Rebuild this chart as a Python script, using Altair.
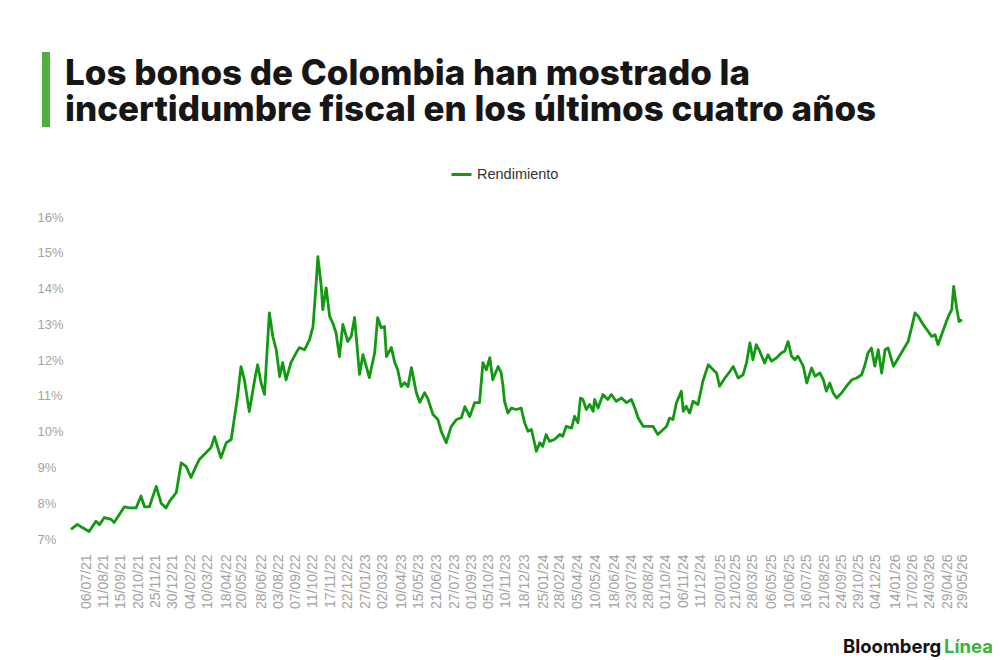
import altair as alt
import pandas as pd

# ---- data (yield, %) ----
dates_2021 = ["2021-06-05","2021-06-18","2021-06-28","2021-07-12","2021-07-26","2021-08-02","2021-08-12",
              "2021-08-26","2021-09-01","2021-09-22","2021-10-02","2021-10-16","2021-10-26","2021-11-02",
              "2021-11-12","2021-11-26","2021-12-06","2021-12-16","2021-12-23"]
values_2021 = [7.27,7.41,7.32,7.21,7.50,7.40,7.60,7.55,7.46,7.90,7.87,7.87,8.20,7.90,7.90,8.47,8.00,7.87,8.05]

dates_2022 = ["2022-01-06","2022-01-16","2022-01-26","2022-02-05","2022-02-15","2022-02-22","2022-03-08",
              "2022-03-18","2022-03-25","2022-04-07","2022-04-18","2022-04-28","2022-05-05","2022-05-11",
              "2022-05-18","2022-05-25","2022-06-04","2022-06-15","2022-06-21","2022-06-28","2022-07-05",
              "2022-07-15","2022-07-22","2022-07-29","2022-08-05","2022-08-11","2022-08-18","2022-08-28",
              "2022-09-08","2022-09-14","2022-09-25","2022-10-05","2022-10-12","2022-10-18","2022-10-22",
              "2022-10-29","2022-11-01","2022-11-08","2022-11-15","2022-11-21","2022-11-28","2022-12-05",
              "2022-12-12","2022-12-22","2022-12-29"]
values_2022 = [8.30,9.13,9.03,8.72,9.03,9.22,9.42,9.56,9.86,9.27,9.69,9.78,10.42,10.98,11.82,11.45,10.56,
               11.45,11.87,11.37,11.04,13.32,12.66,12.29,11.54,11.93,11.45,11.93,12.21,12.35,12.29,12.57,
               12.93,14.05,14.89,14.05,13.41,14.02,13.22,13.05,12.77,12.10,13.00,12.52,12.66]

dates_2023 = ["2023-01-05","2023-01-15","2023-01-22","2023-01-29","2023-02-04","2023-02-15","2023-02-21",
              "2023-02-28","2023-03-07","2023-03-11","2023-03-21","2023-03-28","2023-04-03","2023-04-10",
              "2023-04-17","2023-04-24","2023-05-01","2023-05-11","2023-05-18","2023-05-28","2023-06-04",
              "2023-06-14","2023-06-24","2023-07-01","2023-07-11","2023-07-21","2023-08-01","2023-08-11",
              "2023-08-18","2023-08-28","2023-09-07","2023-09-17","2023-09-24","2023-10-01","2023-10-08",
              "2023-10-14","2023-10-25","2023-10-31","2023-11-04","2023-11-07","2023-11-14","2023-11-21",
              "2023-12-01","2023-12-11","2023-12-18","2023-12-25"]
values_2023 = [13.19,11.60,12.15,11.82,11.51,12.21,13.19,12.91,12.94,12.10,12.35,11.93,11.73,11.26,11.37,
               11.26,11.79,11.09,10.82,11.09,10.90,10.48,10.34,10.00,9.69,10.14,10.34,10.39,10.70,10.42,
               10.81,10.81,11.93,11.73,12.07,11.45,11.82,11.66,11.27,10.85,10.52,10.66,10.62,10.66,10.25,
               10.01]

dates_2024 = ["2024-01-01","2024-01-08","2024-01-11","2024-01-18","2024-01-24","2024-01-31","2024-02-07",
              "2024-02-17","2024-02-28","2024-03-05","2024-03-12","2024-03-23","2024-03-29","2024-04-05",
              "2024-04-10","2024-04-15","2024-04-22","2024-04-29","2024-05-06","2024-05-09","2024-05-16",
              "2024-05-26","2024-06-05","2024-06-12","2024-06-22","2024-07-03","2024-07-13","2024-07-23",
              "2024-07-30","2024-08-06","2024-08-16","2024-08-26","2024-09-05","2024-09-15","2024-09-26",
              "2024-10-03","2024-10-09","2024-10-16","2024-10-23","2024-11-02","2024-11-06","2024-11-12",
              "2024-11-19","2024-11-26","2024-12-06","2024-12-16","2024-12-27"]
values_2024 = [10.06,9.64,9.45,9.69,9.59,9.92,9.73,9.78,9.92,9.87,10.15,10.10,10.43,10.25,10.94,10.90,
               10.62,10.76,10.57,10.90,10.66,11.04,10.90,11.04,10.85,10.94,10.81,10.90,10.66,10.38,10.15,
               10.15,10.15,9.92,10.06,10.15,10.38,10.34,10.81,11.13,10.57,10.71,10.52,10.85,10.76,11.41,
               11.87]

dates_2025 = ["2025-01-06","2025-01-13","2025-01-19","2025-01-30","2025-02-09","2025-02-16","2025-02-26",
              "2025-03-08","2025-03-15","2025-03-22","2025-03-28","2025-04-04","2025-04-11","2025-04-21",
              "2025-04-28","2025-05-05","2025-05-15","2025-05-25","2025-06-01","2025-06-08","2025-06-15",
              "2025-06-22","2025-06-28","2025-07-09","2025-07-16","2025-07-26","2025-08-02","2025-08-12",
              "2025-08-19","2025-08-25","2025-09-01","2025-09-08","2025-09-15","2025-09-25","2025-10-05",
              "2025-10-16","2025-10-26","2025-11-05","2025-11-12","2025-11-18","2025-11-25","2025-12-02",
              "2025-12-09","2025-12-16","2025-12-23","2025-12-29"]
values_2025 = [11.73,11.64,11.27,11.50,11.68,11.82,11.50,11.59,11.92,12.48,12.01,12.43,12.25,11.92,12.15,
               11.97,12.06,12.20,12.25,12.52,12.11,12.01,12.11,11.83,11.36,11.78,11.55,11.64,11.45,11.13,
               11.36,11.08,10.94,11.08,11.27,11.45,11.50,11.59,11.87,12.20,12.34,11.83,12.29,11.64,12.29,
               12.34]

dates_2026 = ["2026-01-09","2026-01-19","2026-01-29","2026-02-08","2026-02-15","2026-02-22","2026-03-01",
              "2026-03-11","2026-03-21","2026-03-28","2026-04-04","2026-04-10","2026-04-21","2026-05-01",
              "2026-05-08","2026-05-12","2026-05-18","2026-05-23","2026-05-29"]
values_2026 = [11.83,12.06,12.29,12.52,12.90,13.32,13.22,12.99,12.80,12.66,12.71,12.43,12.85,13.22,13.41,
               14.06,13.46,13.08,13.13]

x_tick_labels = ["06/07/21","11/08/21","15/09/21","20/10/21","25/11/21","30/12/21","04/02/22","10/03/22",
                 "18/04/22","20/05/22","28/06/22","03/08/22","07/09/22","11/10/22","17/11/22","22/12/22",
                 "27/01/23","02/03/23","10/04/23","15/05/23","21/06/23","27/07/23","01/09/23","05/10/23",
                 "10/11/23","18/12/23","25/01/24","28/02/24","05/04/24","10/05/24","18/06/24","23/07/24",
                 "28/08/24","01/10/24","06/11/24","11/12/24","20/01/25","21/02/25","28/03/25","06/05/25",
                 "10/06/25","16/07/25","21/08/25","24/09/25","29/10/25","04/12/25","14/01/26","17/02/26",
                 "24/03/26","29/04/26","29/05/26"]
y_ticks = [7, 8, 9, 10, 11, 12, 13, 14, 15, 16]

series_name = "Rendimiento"
title_lines = ["Los bonos de Colombia han mostrado la",
               "incertidumbre fiscal en los últimos cuatro años"]

# ---- build ----
dates = dates_2021 + dates_2022 + dates_2023 + dates_2024 + dates_2025 + dates_2026
values = values_2021 + values_2022 + values_2023 + values_2024 + values_2025 + values_2026
df = pd.DataFrame({"fecha": dates, "rendimiento": values, "serie": series_name})


def to_ms(ts):
    return int(pd.Timestamp(ts).value // 10**6)


tick_ms = [to_ms(pd.to_datetime(s, format="%d/%m/%y")) for s in x_tick_labels]
x_domain = [to_ms(dates[0]), to_ms(dates[-1])]

LINE_GREEN = "#119a11"
BAR_GREEN = "#4cb140"
LOGO_GREEN = "#38b43c"
W, H = 891, 322

line = alt.Chart(df).mark_line(strokeWidth=2.8, strokeJoin="round").encode(
    x=alt.X("fecha:T",
            scale=alt.Scale(type="utc", domain=x_domain, nice=False),
            axis=alt.Axis(values=tick_ms, labelExpr="utcFormat(datum.value, '%d/%m/%y')",
                          labelAngle=-90, labelAlign="right", labelBaseline="middle",
                          labelPadding=15, ticks=False, tickSize=0, domain=False, grid=False,
                          labelOverlap=False, labelBound=False, labelFlush=False,
                          labelFontSize=14, labelColor="#a3a3a3", labelFont="Liberation Sans",
                          title=None)),
    y=alt.Y("rendimiento:Q",
            scale=alt.Scale(domain=[7, 16], nice=False, zero=False),
            axis=alt.Axis(values=y_ticks, labelExpr="datum.value + '%'", labelAlign="left",
                          labelPadding=34, ticks=False, tickSize=0, domain=False, grid=False,
                          labelFontSize=13, labelColor="#a3a3a3", labelFont="Liberation Sans",
                          title=None)),
    color=alt.Color("serie:N", scale=alt.Scale(range=[LINE_GREEN]),
                    legend=alt.Legend(title=None, orient="none", legendX=379, legendY=-54,
                                      symbolType="stroke", symbolStrokeWidth=3, symbolSize=400,
                                      labelFontSize=14.5, labelColor="#333333",
                                      labelFont="Liberation Sans")),
)

ann = pd.DataFrame({"k": [0]})


def text_layer(text, x, y, **kw):
    return alt.Chart(ann).mark_text(align="left", baseline="alphabetic", **kw).encode(
        x=alt.value(x), y=alt.value(y), text=alt.value(text))


bar = alt.Chart(ann).mark_rule(strokeWidth=8, color=BAR_GREEN).encode(
    x=alt.value(-25), y=alt.value(-165), y2=alt.value(-90))

TITLE_STYLE = dict(font="Inter", fontWeight=800, fontSize=35, color="#161616")
t1 = text_layer(title_lines[0], -6, -132, **TITLE_STYLE)
t2 = text_layer(title_lines[1], -6, -96, **TITLE_STYLE)
logo1 = text_layer("Bloomberg", 772, 436, font="Inter", fontWeight="bold", fontSize=18.5, color="#111111")
logo2 = text_layer("Línea", 873, 436, font="Inter", fontWeight="bold", fontSize=18.5, color=LOGO_GREEN)

chart = alt.layer(line, bar, t1, t2, logo1, logo2).properties(
    width=W, height=H,
    padding={"left": 63, "top": 209, "right": 30, "bottom": 120},
    autosize=alt.AutoSizeParams(type="none"),
    background="white",
).configure_view(stroke=None)

chart.save("out.html", embed_options={"renderer": "svg", "actions": False})
